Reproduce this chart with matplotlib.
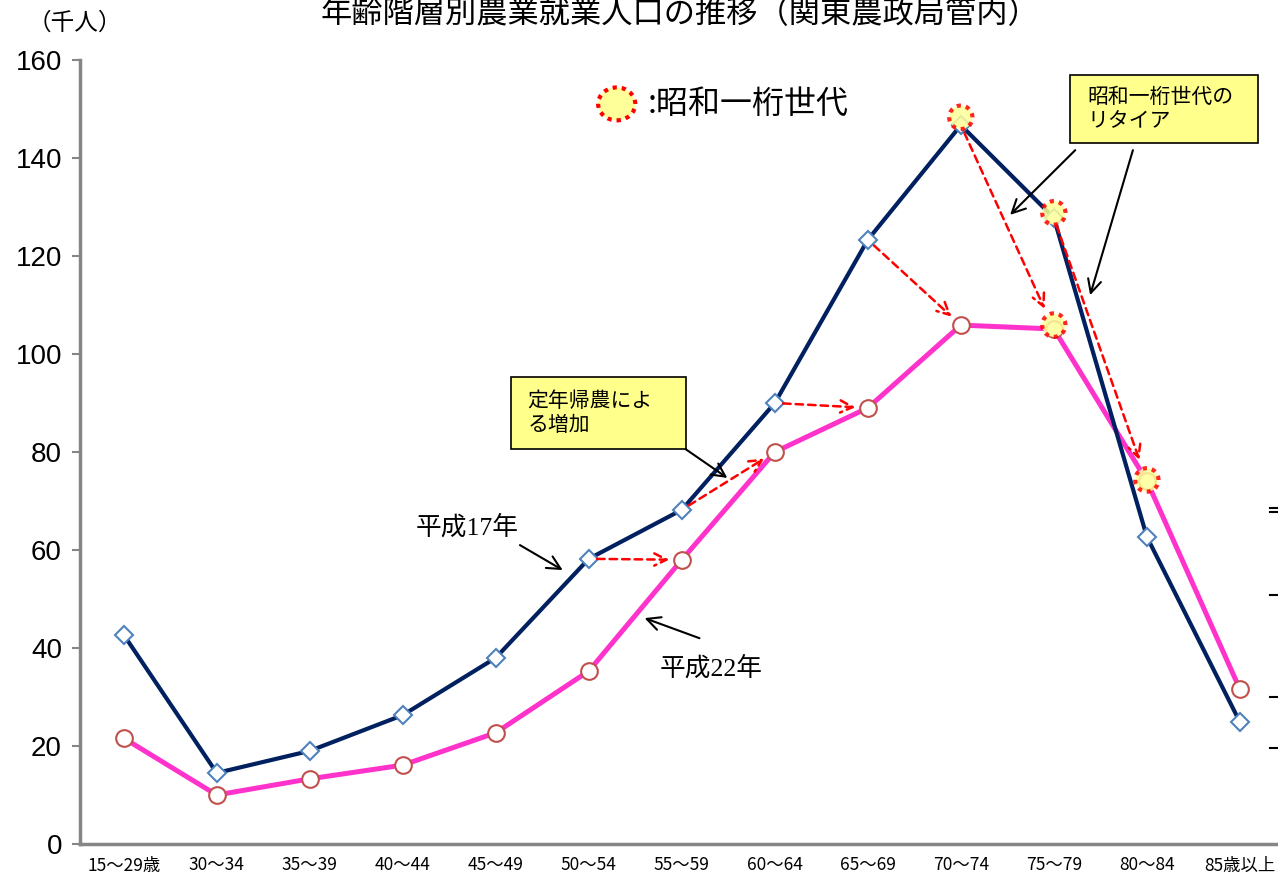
import matplotlib
matplotlib.use("Agg")
import matplotlib.pyplot as plt
from matplotlib.patches import Ellipse, Rectangle
from matplotlib.lines import Line2D

plt.rcParams['font.family'] = ['Noto Sans CJK JP', 'DejaVu Sans']

# --- data (thousand people) ---
age_groups = ["15～29歳", "30～34", "35～39", "40～44", "45～49", "50～54", "55～59",
              "60～64", "65～69", "70～74", "75～79", "80～84", "85歳以上"]
h17 = [42.7, 14.5, 19.0, 26.3, 38.0, 58.2, 68.2, 90.0, 123.3, 146.7, 127.8, 62.7, 24.9]
h22 = [21.6, 10.0, 13.3, 16.1, 22.7, 35.3, 58.0, 80.0, 89.0, 105.9, 105.1, 74.1, 31.6]
yticks = [0, 20, 40, 60, 80, 100, 120, 140, 160]

# showa one-digit generation highlights (index, value)
showa_idx = [9, 10, 10, 11]
showa_val = [148.3, 128.8, 105.9, 74.3]

# shift arrows: from h17[i] to h22[j]
shift_from = [5, 6, 7, 8, 9, 10]
shift_to = [6, 7, 8, 9, 10, 11]

NAVY = "#002060"
PINK = "#FF33CC"

fig = plt.figure(figsize=(12.78, 8.77), dpi=100)
ax = fig.add_axes([80 / 1278, 33 / 877, 1198 / 1278, 784 / 877])
x = list(range(len(age_groups)))

ax.plot(x, h17, color=NAVY, lw=3.0, marker='D', ms=9, mfc='white', mec='#4F81BD', mew=1.5, zorder=4)
ax.plot(x, h22, color=PINK, lw=3.6, marker='o', ms=12, mfc='white', mec='#C0504D', mew=1.5, zorder=3)

# highlight circles
for i, v in zip(showa_idx, showa_val):
    ax.add_patch(Ellipse((i, v), 0.25, 4.8, facecolor='#FFFF99', alpha=0.85,
                         edgecolor='red', lw=3, ls=(0, (1, 1.2)), zorder=5))

# red dashed shift arrows
for a, b in zip(shift_from, shift_to):
    ax.annotate('', xy=(b, h22[b]), xytext=(a, h17[a]),
                arrowprops=dict(arrowstyle='->', color='red', lw=1.8, ls=(0, (3, 2)),
                                mutation_scale=22, shrinkA=6, shrinkB=9 if b < 10 else 16),
                zorder=6)

ax.set_xlim(-0.47, 12.41)
ax.set_ylim(0, 160)
ax.set_yticks(yticks)
ax.set_yticklabels([str(v) for v in yticks], family=['Liberation Sans'], fontsize=20)
ax.set_xticks(x)
ax.set_xticklabels(age_groups, fontsize=12.5)
ax.tick_params(axis='x', length=0, pad=9)
ax.tick_params(axis='y', length=6, width=1.5, color='#868686', pad=7)
for s in ['top', 'right']:
    ax.spines[s].set_visible(False)
for s in ['left', 'bottom']:
    ax.spines[s].set_color('#868686')
    ax.spines[s].set_linewidth(2.5)

# legend for highlight
ax.add_patch(Ellipse((0.448, 0.944), 0.031, 0.042, transform=ax.transAxes, facecolor='#FFFF99',
                     edgecolor='red', lw=3, ls=(0, (1, 1.2)), clip_on=False))
ax.text(0.474, 0.944, ':昭和一桁世代', transform=ax.transAxes, fontsize=23, va='center', ha='left')

# callout boxes
ax.add_patch(Rectangle((10.17, 143.1), 2.02, 13.8, facecolor='#FFFF8C', edgecolor='black', lw=1.2, zorder=7))
ax.text(10.36, 150.0, '昭和一桁世代の\nリタイア', fontsize=15, va='center', ha='left', linespacing=1.1, zorder=8)
ax.add_patch(Rectangle((4.16, 80.6), 1.88, 14.7, facecolor='#FFFF8C', edgecolor='black', lw=1.2, zorder=7))
ax.text(4.34, 88.0, '定年帰農によ\nる増加', fontsize=15, va='center', ha='left', linespacing=1.1, zorder=8)

arrow_k = dict(arrowstyle='->', color='black', lw=1.5, mutation_scale=24, shrinkA=0, shrinkB=0)
ax.annotate('', xy=(9.53, 128.4), xytext=(10.23, 141.6), arrowprops=arrow_k, zorder=6)
ax.annotate('', xy=(10.39, 112.0), xytext=(10.85, 141.6), arrowprops=arrow_k, zorder=6)
ax.annotate('', xy=(6.49, 74.7), xytext=(6.04, 80.6), arrowprops=arrow_k, zorder=6)
ax.annotate('', xy=(4.72, 55.9), xytext=(4.26, 61.0), arrowprops=arrow_k, zorder=6)
ax.annotate('', xy=(5.60, 46.1), xytext=(6.19, 42.0), arrowprops=arrow_k, zorder=6)

serif = ['Liberation Serif', 'Noto Sans CJK JP']
ax.text(3.69, 64.7, '平成17年', family=serif, fontsize=18.5, ha='center', va='center')
ax.text(6.32, 35.9, '平成22年', family=serif, fontsize=18.5, ha='center', va='center')

# titles
fig.text(0.532, 1 - 14 / 877, '年齢階層別農業就業人口の推移（関東農政局管内）', fontsize=22.5, ha='center', va='center')
fig.text(75 / 1278, 1 - 23 / 877, '（千人）', fontsize=17, ha='center', va='center')

# stray tick marks at right edge (from neighbouring chart)
for py in [508, 512, 595, 697, 748]:
    fig.add_artist(Line2D([1270 / 1278, 1278 / 1278], [1 - py / 877] * 2, color='black', lw=1.5))

fig.savefig('out.png', dpi=100)
